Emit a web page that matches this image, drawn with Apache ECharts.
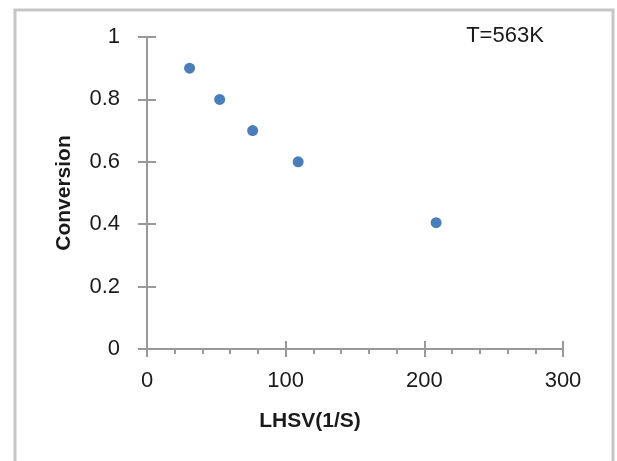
<!DOCTYPE html>
<html>
<head>
<meta charset="utf-8">
<script src="https://cdn.jsdelivr.net/npm/echarts@6/dist/echarts.min.js"></script>
<style>
  html, body { margin: 0; padding: 0; background: #ffffff; }
  #chart { width: 617px; height: 461px; }
</style>
</head>
<body>
<div id="chart"></div>
<script>
// Liquid hourly space velocity vs. conversion at 563 K
const lhsv = [30.7, 52.4, 76.2, 109, 208.5];
const conversion = [0.9, 0.8, 0.7, 0.6, 0.405];
const xTicks = [0, 100, 200, 300];
const yTicks = [0, 0.2, 0.4, 0.6, 0.8, 1];
const xTitle = 'LHSV(1/S)';
const yTitle = 'Conversion';
const noteText = 'T=563K';

const FONT = '"Liberation Sans", Arial, sans-serif';
const AXIS_COLOR = '#999999';
const TEXT_COLOR = '#1a1a1a';

const points = lhsv.map((x, i) => [x, conversion[i]]);

const xRange = { min: xTicks[0], max: xTicks[xTicks.length - 1], interval: xTicks[1] - xTicks[0] };
const yRange = { min: yTicks[0], max: yTicks[yTicks.length - 1], interval: +(yTicks[1] - yTicks[0]).toFixed(2) };

const chart = echarts.init(document.getElementById('chart'), null, { renderer: 'canvas' });

chart.setOption({
  backgroundColor: '#ffffff',
  animation: false,
  grid: { left: 147, right: 54, top: 37, bottom: 112 },
  graphic: [
    {
      type: 'rect',
      shape: { x: 15, y: 10, width: 598, height: 470 },
      style: { fill: 'none', stroke: '#c6c6c6', lineWidth: 3 },
      z: 0
    },
    {
      type: 'text',
      x: 310, y: 421,
      style: {
        text: xTitle, textAlign: 'center', textVerticalAlign: 'middle',
        font: 'bold 21px ' + FONT, fill: TEXT_COLOR
      }
    },
    {
      type: 'text',
      x: 505, y: 36,
      style: {
        text: noteText, textAlign: 'center', textVerticalAlign: 'middle',
        font: '22px ' + FONT, fill: TEXT_COLOR
      }
    }
  ],
  xAxis: [
    {
      type: 'value', position: 'bottom',
      min: xRange.min, max: xRange.max, interval: xRange.interval,
      axisLine: { show: true, onZero: false, lineStyle: { color: AXIS_COLOR, width: 2 } },
      axisTick: { show: true, inside: false, length: 8, lineStyle: { color: AXIS_COLOR, width: 2 } },
      minorTick: { show: true, splitNumber: 5, length: 5, lineStyle: { color: AXIS_COLOR, width: 2 } },
      splitLine: { show: false },
      axisLabel: { margin: 21, fontSize: 22, fontFamily: FONT, color: TEXT_COLOR }
    },
    {
      type: 'value', position: 'bottom',
      min: xRange.min, max: xRange.max, interval: xRange.interval,
      axisLine: { show: false, onZero: false },
      axisTick: { show: true, inside: true, length: 8, lineStyle: { color: AXIS_COLOR, width: 2 } },
      splitLine: { show: false },
      axisLabel: { show: false }
    }
  ],
  yAxis: [
    {
      type: 'value', position: 'left',
      min: yRange.min, max: yRange.max, interval: yRange.interval,
      name: yTitle, nameLocation: 'middle', nameGap: 72,
      nameTextStyle: { fontSize: 21, fontWeight: 'bold', fontFamily: FONT, color: TEXT_COLOR },
      axisLine: { show: true, onZero: false, lineStyle: { color: AXIS_COLOR, width: 2 } },
      axisTick: { show: true, inside: false, length: 9, lineStyle: { color: AXIS_COLOR, width: 2 } },
      splitLine: { show: false },
      axisLabel: { margin: 27, fontSize: 22, fontFamily: FONT, color: TEXT_COLOR }
    },
    {
      type: 'value', position: 'left',
      min: yRange.min, max: yRange.max, interval: yRange.interval,
      axisLine: { show: false, onZero: false },
      axisTick: { show: true, inside: true, length: 9, lineStyle: { color: AXIS_COLOR, width: 2 } },
      splitLine: { show: false },
      axisLabel: { show: false }
    }
  ],
  series: [
    {
      type: 'scatter',
      xAxisIndex: 0, yAxisIndex: 0,
      data: points,
      symbol: 'circle',
      symbolSize: 11,
      itemStyle: { color: '#4a7ebb', opacity: 1 },
      z: 5
    }
  ]
});
</script>
</body>
</html>
